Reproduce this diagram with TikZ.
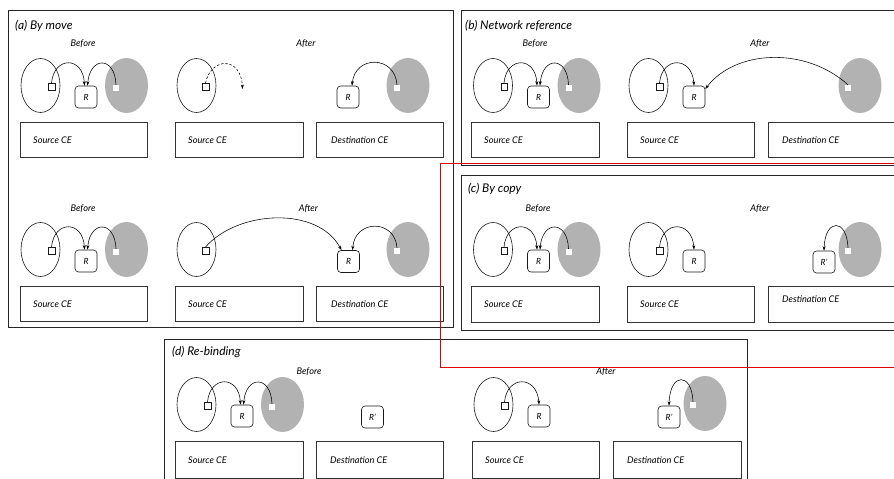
\documentclass[tikz,border=0pt]{standalone}
\usepackage{fontspec}
\setmainfont{Lato}
\usetikzlibrary{arrows.meta,shapes.geometric}

\tikzset{
  panel/.style={draw=black!85, line width=0.8pt},
  marker/.style={draw=red!90!black, line width=0.7pt},
  cebox/.style={draw=black!80, line width=0.8pt, rectangle, inner sep=0pt, anchor=north west},
  cetext/.style={anchor=west, font=\itshape\fontsize{9.2}{11}\selectfont, inner sep=0pt},
  ttl/.style={anchor=base west, font=\itshape\fontsize{12}{14}\selectfont, inner sep=0pt},
  phase/.style={anchor=base, font=\itshape\fontsize{9.2}{11}\selectfont, inner sep=0pt},
  cell/.style={ellipse, draw=black!90, line width=0.6pt, minimum width=39pt, minimum height=54pt, inner sep=0pt},
  remote/.style={ellipse, fill=black!30, minimum width=43pt, minimum height=55pt, inner sep=0pt},
  port/.style={draw=black!90, rectangle, minimum size=6.5pt, inner sep=0pt, line width=0.5pt},
  rport/.style={rectangle, fill=white, minimum size=6pt, inner sep=0pt},
  res/.style={draw=black!90, rounded corners=3.5pt, minimum size=22pt, inner sep=0pt, line width=0.6pt, font=\itshape\fontsize{8.5}{9}\selectfont},
  link/.style={-{Stealth[length=4.5pt,width=3pt]}, line width=0.55pt},
}

% source cell, resource R and remote cell, both bound to R
\newcommand\srcpair[2]{%
  \begin{scope}[shift={#2}]
    \node[cell] (#1c) at (40.5,85.5) {};
    \node[port] (#1p) at (51.5,86.5) {};
    \node[res] (#1r) at (86,97) {R};
    \node[remote] (#1g) at (126.5,85.5) {};
    \node[rport] (#1w) at (116,88) {};
    \draw[link] (#1p.north) .. controls (54,56) and (83,56) .. ([xshift=-1.5pt]#1r.north);
    \draw[link] (#1w.north) .. controls (115,56) and (90,56) .. ([xshift=1.5pt]#1r.north);
  \end{scope}}

% source cell keeping its own resource R
\newcommand\srckeep[2]{%
  \begin{scope}[shift={#2}]
    \node[cell] (#1c) at (40.5,85.5) {};
    \node[port] (#1p) at (51.5,86.5) {};
    \node[res] (#1r) at (86,97) {R};
    \draw[link] (#1p.north) .. controls (54,56) and (84,56) .. (#1r.north);
  \end{scope}}

\begin{document}
\begin{tikzpicture}[x=1pt,y=-1pt]
\useasboundingbox (0,0) rectangle (894,479);

% ---------- panel frames ----------
\draw[panel] (8.5,10.5) rectangle (453.5,327.5);
\draw[panel] (461,10.5) rectangle (900,165.5);
\draw[panel] (461,175) rectangle (900,330);
\draw[panel] (164,339) rectangle (747,490);

\node[ttl] (ta) at (15,29.5) {(a) By move};
\node[ttl] (tb) at (465,29) {(b) Network reference};
\node[ttl] (tc) at (468,192) {(c) By copy};
\node[ttl] (td) at (172,355.5) {(d) Re-binding};

% ---------- (a) by move, first case ----------
\node[phase] (aaB) at (83,46.5) {Before};
\node[phase] (aaA) at (306,46.5) {After};
\srcpair{aa}{(0,0)}
\node[cell] (abc) at (196.5,85.5) {};
\node[port] (abp) at (205.5,86.5) {};
\coordinate (abend) at (242.5,89);
\draw[link, dashed, dash pattern=on 2.5pt off 1.8pt] (abp.north) .. controls (211,57) and (241,56) .. (abend);
\node[res] (acr) at (348,97) {R};
\node[remote] (acg) at (408,85.5) {};
\node[rport] (acw) at (397,88) {};
\draw[link] (acw.north) .. controls (395,55) and (355,55) .. ([xshift=4pt]acr.north);

\node[cebox, minimum width=127pt, minimum height=35pt] (aaS) at (20,122) {};
\node[cetext] (aaSt) at ([xshift=13pt]aaS.west) {Source CE};
\node[cebox, minimum width=128pt, minimum height=35pt] (abS) at (175,122) {};
\node[cetext] (abSt) at ([xshift=13pt]abS.west) {Source CE};
\node[cebox, minimum width=127pt, minimum height=35pt] (acD) at (316,122) {};
\node[cetext] (acDt) at ([xshift=15pt]acD.west) {Destination CE};

% ---------- (a) by move, second case ----------
\node[phase] (adB) at (83,211) {Before};
\node[phase] (adA) at (308.5,211) {After};
\srcpair{ad}{(0,164)}
\node[cell] (aec) at (196.5,249.5) {};
\node[port] (aep) at (205.5,250.5) {};
\node[res] (afr) at (348.5,261.5) {R};
\node[remote] (afg) at (408,249.5) {};
\node[rport] (afw) at (397,251) {};
\draw[link] (aep.north) .. controls (238,210) and (318,206) .. ([xshift=-7pt]afr.north);
\draw[link] (afw.north) .. controls (395,219) and (355,219) .. ([xshift=4pt]afr.north);

\node[cebox, minimum width=127pt, minimum height=35pt] (adS) at (20,286) {};
\node[cetext] (adSt) at ([xshift=13pt]adS.west) {Source CE};
\node[cebox, minimum width=128pt, minimum height=35pt] (aeS) at (175,286) {};
\node[cetext] (aeSt) at ([xshift=13pt]aeS.west) {Source CE};
\node[cebox, minimum width=127pt, minimum height=35pt] (afD) at (316,286) {};
\node[cetext] (afDt) at ([xshift=15pt]afD.west) {Destination CE};

% ---------- (b) network reference ----------
\node[phase] (baB) at (535,46.5) {Before};
\node[phase] (baA) at (760,46.5) {After};
\srcpair{ba}{(452.5,0)}
\srckeep{bb}{(608,0)}
\node[remote] (bcg) at (860,85.5) {};
\node[rport] (bcw) at (848,88) {};
\draw[link] (bcw.north) .. controls (805,46) and (735,50) .. ([yshift=8pt]bbr.east);

\node[cebox, minimum width=128pt, minimum height=35pt] (baS) at (471,122) {};
\node[cetext] (baSt) at ([xshift=13pt]baS.west) {Source CE};
\node[cebox, minimum width=127pt, minimum height=35pt] (bbS) at (627,122) {};
\node[cetext] (bbSt) at ([xshift=13pt]bbS.west) {Source CE};
\node[cebox, minimum width=132pt, minimum height=35pt] (bcD) at (768,122) {};
\node[cetext] (bcDt) at ([xshift=14pt]bcD.west) {Destination CE};

% ---------- (c) by copy ----------
\node[phase] (caB) at (538,211) {Before};
\node[phase] (caA) at (760,211) {After};
\srcpair{ca}{(452.5,164)}
\srckeep{cb}{(608,164)}
\node[res] (ccr) at (824,262) {R'};
\node[remote] (ccg) at (860,249.5) {};
\node[rport] (ccw) at (848,251) {};
\draw[link] (ccw.north) .. controls (847,218) and (825,218) .. (ccr.north);

\node[cebox, minimum width=128pt, minimum height=36pt] (caS) at (471,286) {};
\node[cetext] (caSt) at ([xshift=13pt]caS.west) {Source CE};
\node[cebox, minimum width=127pt, minimum height=36pt] (cbS) at (627,286) {};
\node[cetext] (cbSt) at ([xshift=13pt]cbS.west) {Source CE};
\node[cebox, minimum width=132pt, minimum height=36pt] (ccD) at (768,286) {};
\node[cetext] (ccDt) at ([xshift=14pt,yshift=5pt]ccD.west) {Destination CE};

% ---------- (d) re-binding ----------
\node[phase] (daB) at (309,374) {Before};
\node[phase] (daA) at (606,374) {After};
\srcpair{da}{(156,319)}
\node[res] (dar2) at (372.5,417) {R'};
\srckeep{db}{(453,319)}
\node[res] (dcr) at (669,417) {R'};
\node[remote] (dcg) at (705,403.5) {};
\node[rport] (dcw) at (693,405) {};
\draw[link] (dcw.north) .. controls (692,372) and (670,372) .. (dcr.north);

\node[cebox, minimum width=128pt, minimum height=37pt] (daS) at (175,441) {};
\node[cetext] (daSt) at ([xshift=13pt]daS.west) {Source CE};
\node[cebox, minimum width=127pt, minimum height=37pt] (daD) at (316,441) {};
\node[cetext] (daDt) at ([xshift=14pt]daD.west) {Destination CE};
\node[cebox, minimum width=127pt, minimum height=37pt] (dbS) at (472,441) {};
\node[cetext] (dbSt) at ([xshift=13pt]dbS.west) {Source CE};
\node[cebox, minimum width=128pt, minimum height=37pt] (dcD) at (613,441) {};
\node[cetext] (dcDt) at ([xshift=14pt]dcD.west) {Destination CE};

% ---------- highlight frame ----------
\draw[marker] (440,163) rectangle (900,367);
\end{tikzpicture}
\end{document}
